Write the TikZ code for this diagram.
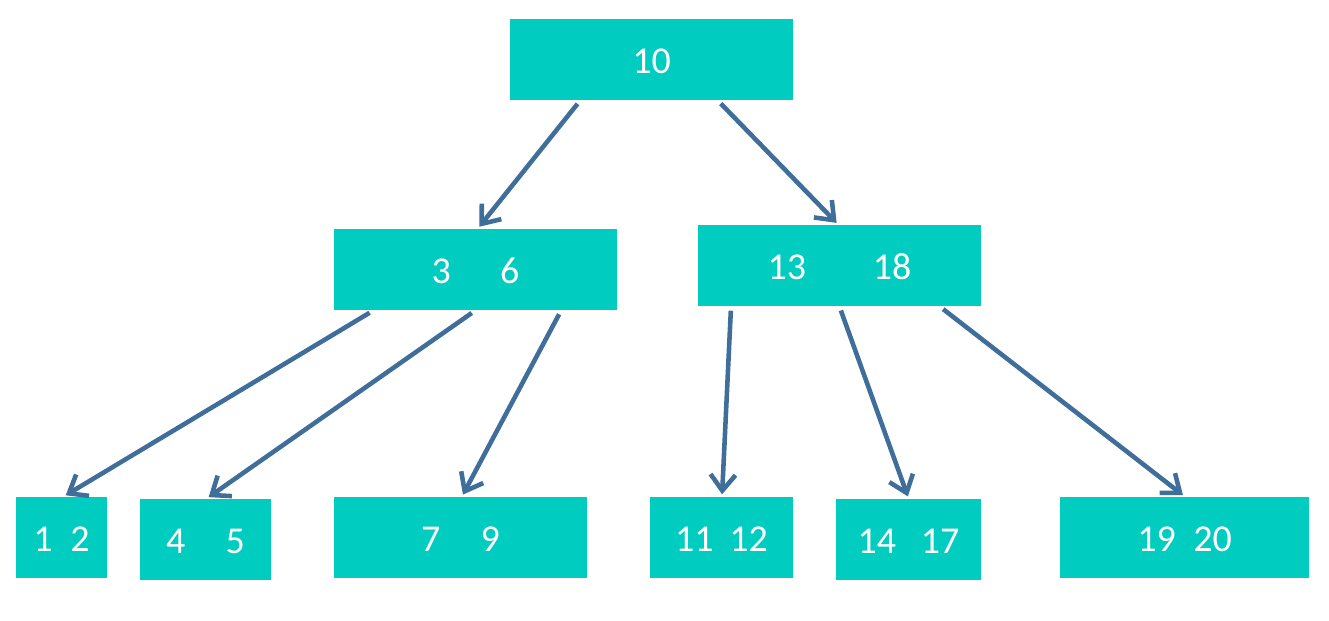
\documentclass[tikz,border=0pt]{standalone}
\usepackage{fontspec}
\setmainfont{Carlito}
\usepackage{tikz}
\usetikzlibrary{arrows.meta, positioning}
\usepackage{xcolor}
\definecolor{keyteal}{RGB}{0,204,192}
\definecolor{linkblue}{RGB}{64,110,155}
\tikzset{
    % B-tree keys
    keybox/.style={rectangle, fill=keyteal, draw=none, minimum width=#1,
                minimum height=0.81cm, inner sep=0pt, align=center,
                text=white, text height=2.8mm, text depth=0mm,
                font=\fontsize{10.8pt}{12pt}\selectfont},
    keybox/.default=2.83cm,
    % links
    linkarrow/.style={-{Straight Barb[length=1.6mm, width=2.5mm]}, line width=1.3pt,
                linkblue, shorten <=0.4mm, shorten >=0.2mm},
}

\begin{document}
\begin{tikzpicture}
\useasboundingbox (0,0) rectangle (13.29,-6.2);

\node[keybox] (root)  at (6.515,-0.595) {10};
\node[keybox] (n36)   at (4.755,-2.695) {3\hspace{14pt}6};
\node[keybox] (n1318) at (8.395,-2.655) {13\hspace{19pt}18};

\node[keybox=0.91cm] (n12)   at (0.615,-5.375)  {1\hspace{5pt}2};
\node[keybox=1.31cm] (n45)   at (2.055,-5.395)  {4\hspace{11.5pt}5};
\node[keybox=2.53cm] (n79)   at (4.605,-5.375)  {7\hspace{11.5pt}9};
\node[keybox=1.43cm] (n1112) at (7.215,-5.375)  {11\hspace{4.5pt}12};
\node[keybox=1.45cm] (n1417) at (9.085,-5.395)  {14\hspace{7pt}17};
\node[keybox=2.49cm] (n1920) at (11.845,-5.375) {19\hspace{5pt}20};

\draw[linkarrow] ([xshift=-7.15mm]root.south) -- ([xshift=0.25mm]n36.north);
\draw[linkarrow] ([xshift=6.65mm]root.south) -- ([xshift=-0.15mm]n1318.north);

\draw[linkarrow] ([xshift=-10.25mm]n36.south) -- ([xshift=0.25mm]n12.north);
\draw[linkarrow] ([xshift=-0.05mm]n36.south) -- ([xshift=0.15mm]n45.north);
\draw[linkarrow] ([xshift=8.55mm]n36.south) -- ([xshift=0.15mm]n79.north);

\draw[linkarrow] ([xshift=-10.85mm]n1318.south) -- ([xshift=0.05mm]n1112.north);
\draw[linkarrow] (n1318.south) -- (n1417.north);
\draw[linkarrow] ([xshift=10.05mm]n1318.south) -- (n1920.north);
\end{tikzpicture}
\end{document}
